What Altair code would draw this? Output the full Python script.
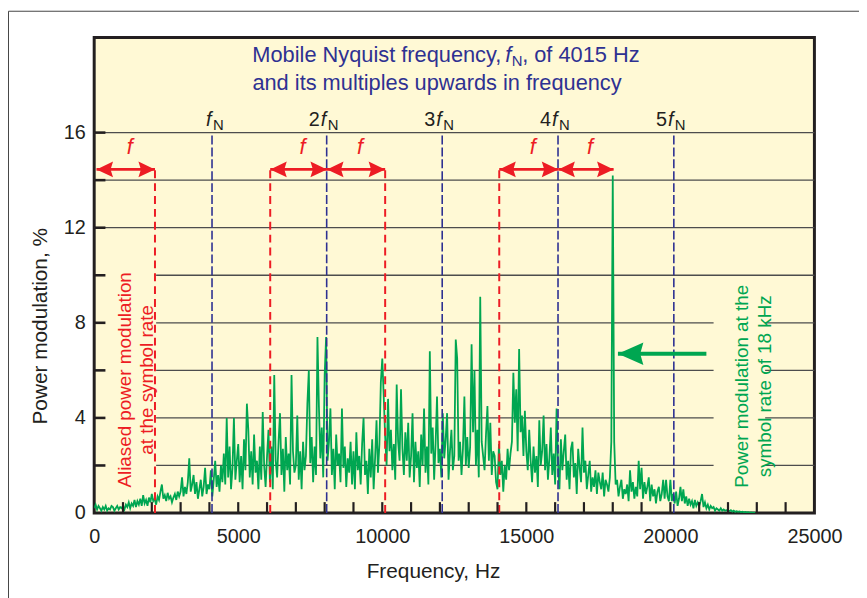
import altair as alt
import pandas as pd

FONT = "Liberation Sans"
GREEN = "#00A651"
RED = "#ED1C24"
BLUE = "#2E3192"
INK = "#231F20"
BG = "#FFF9D5"

# ---------------- data ----------------
step_hz = 50  # spectrum sample spacing
power_00k = [0.2,0.35,0.15,0.3,0.2,0.1,0.25,0.15,0.3,0.1,0.2,0.15,0.3,0.25,0.1,0.2,0.3,0.15,0.25,0.2]
power_01k = [0.3,0.15,0.35,0.25,0.45,0.2,0.4,0.3,0.55,0.25,0.5,0.35,0.6,0.3,0.75,0.4,0.55,0.3,0.65,0.45]
power_02k = [0.8,0.5,0.6,0.35,0.7,0.55,0.9,1.2,0.6,0.75,0.5,0.85,0.6,0.7,0.45,0.65,0.8,0.55,0.9,0.7]
power_03k = [0.9,1.5,0.7,1.1,0.8,1.3,2.3,0.9,1.2,1.6,0.8,1.3,0.6,1.0,1.4,0.7,1.1,1.9,0.8,1.2]
power_04k = [1.0,1.8,0.7,1.4,2.2,1.1,1.6,0.9,2.0,1.3,2.5,1.2,4.0,1.5,2.8,1.0,1.9,4.0,1.4,2.2]
power_05k = [2.9,1.3,2.4,1.0,3.1,1.8,4.6,3.5,1.5,2.6,1.2,3.3,1.7,2.2,1.0,2.8,1.4,4.25,2.0,1.1]
power_06k = [2.4,3.5,1.3,2.8,1.0,5.8,2.2,1.5,3.0,4.2,1.6,2.7,0.9,3.2,1.8,2.5,1.2,5.8,2.6,1.7]
power_07k = [2.0,4.1,1.4,2.6,1.0,3.0,1.8,2.4,4.6,6.0,2.1,3.2,1.3,2.8,1.6,7.4,4.5,2.3,3.6,1.5]
power_08k = [5.8,7.4,2.2,3.0,4.4,1.6,2.7,1.0,3.3,2.0,2.5,1.3,4.4,1.9,2.8,1.1,2.3,1.7,3.0,1.2]
power_09k = [2.6,1.0,3.4,1.8,2.4,1.2,2.9,4.0,1.6,2.2,0.8,2.7,1.5,3.1,1.0,2.3,3.9,1.7,2.9,5.5]
power_10k = [6.5,4.9,3.2,2.0,4.8,2.6,3.5,1.8,2.9,1.4,5.4,3.0,2.2,5.2,2.7,1.6,3.4,2.2,3.8,1.5]
power_11k = [2.4,4.2,1.3,3.0,1.9,2.6,1.1,3.3,2.0,4.4,1.7,2.8,1.2,6.8,2.5,3.6,1.4,2.9,4.9,2.1]
power_12k = [2.7,1.5,4.2,2.3,3.1,4.2,1.4,2.6,3.5,1.8,2.4,7.3,6.5,2.2,3.0,1.6,2.7,4.9,2.0,3.2]
power_13k = [1.9,2.8,7.1,3.4,6.0,2.0,3.5,1.5,9.1,3.0,2.4,1.8,3.3,4.5,2.2,3.8,1.6,2.6,2.4,1.3]
power_14k = [1.0,2.9,1.6,2.2,0.9,2.0,1.4,2.7,1.8,2.5,3.0,5.9,3.8,5.2,2.6,6.9,3.4,4.1,2.4,4.3]
power_15k = [2.6,1.8,3.5,2.2,1.3,2.8,1.7,2.4,1.1,3.9,2.0,2.6,4.1,1.8,2.9,1.4,2.3,3.6,1.6,2.5]
power_16k = [1.2,4.4,2.1,1.0,3.1,1.8,2.6,3.3,1.4,2.2,1.0,2.7,3.0,1.5,2.1,0.8,2.7,1.9,1.3,3.6]
power_17k = [1.7,2.2,1.0,1.6,2.2,0.9,1.5,1.1,1.8,0.8,1.7,1.3,1.0,1.7,0.7,1.4,1.2,0.9,1.5,3.0]
power_18k = [14.2,3.0,1.2,1.4,0.7,1.1,1.4,0.6,1.0,0.8,1.2,0.5,1.8,0.9,1.3,0.6,1.1,0.7,2.2,1.0]
power_19k = [1.9,0.6,1.3,0.8,1.1,1.5,0.5,1.2,0.7,1.0,0.4,0.9,1.1,0.5,0.8,1.4,0.6,1.4,0.7,0.5]
power_20k = [1.4,0.5,0.8,0.4,0.9,0.3,0.6,1.1,0.5,1.0,0.4,0.7,0.3,0.6,0.35,0.5,0.2,0.55,0.3,0.45]
power_21k = [0.3,0.5,0.8,0.25,0.45,0.2,0.35,0.15,0.3,0.2,0.25,0.1,0.2,0.15,0.1,0.2,0.1,0.15,0.1,0.12]
power_22k = [0.1,0.08,0.12,0.06,0.1,0.05,0.08,0.05,0.07,0.04,0.06,0.03,0.05,0.03,0.04,0.02,0.03,0.02,0.02,0.02]

# horizontal grid lines, broken where the two annotation boxes sit
grid_levels = [16, 14, 12, 10, 8, 8, 6, 6, 4, 4, 2, 2]
grid_starts = [0, 0, 0, 2150, 2150, 23290, 2150, 23290, 2150, 23290, 2150, 23290]
grid_ends = [25000, 25000, 25000, 25000, 21500, 25000, 21500, 25000, 21500, 25000, 21500, 25000]

x_tick_labels = [0, 5000, 10000, 15000, 20000, 25000]
y_tick_labels = [0, 4, 8, 12, 16]
x_minor_ticks = [1000, 2000, 3000, 4000, 5000, 6000, 7000, 8000, 9000, 10000, 11000, 12000,
                 13000, 14000, 15000, 16000, 17000, 18000, 19000, 20000, 21000, 22000, 23000, 24000]
y_minor_ticks = [2, 4, 6, 8, 10, 12, 14, 16]

nyquist_lines = [4090, 8070, 12080, 16100, 20120]
nyquist_mult = ["", "2", "3", "4", "5"]
nyquist_top = 15.9
alias_lines = [2110, 6110, 10100, 14060]
arrow_starts = [80, 6110, 8080, 14060, 16110]
arrow_ends = [2110, 8080, 10100, 16110, 18030]
arrow_level = 14.45

# ---------------- tables ----------------
blocks = [power_00k, power_01k, power_02k, power_03k, power_04k, power_05k, power_06k, power_07k,
          power_08k, power_09k, power_10k, power_11k, power_12k, power_13k, power_14k, power_15k,
          power_16k, power_17k, power_18k, power_19k, power_20k, power_21k, power_22k]
power = [v for b in blocks for v in b]
spec = pd.DataFrame({"f": [i * step_hz for i in range(len(power))], "p": power})

xs = alt.Scale(domain=[0, 25000], nice=False, zero=False)
ys = alt.Scale(domain=[0, 20], nice=False, zero=False)
x_axis = alt.Axis(values=x_tick_labels, format="d", ticks=False, domain=False, grid=False,
                  labelFontSize=20, labelPadding=14, labelFlush=False, labelOverlap=False,
                  title="Frequency, Hz", titleFontSize=21, titleX=342, titleY=65,
                  titleAlign="center", titleBaseline="alphabetic", titleAngle=0)
y_axis = alt.Axis(values=y_tick_labels, ticks=False, domain=False, grid=False,
                  labelFontSize=20, labelPadding=9,
                  title="Power modulation, %", titleFontSize=21, titleX=-54, titleY=291,
                  titleAngle=270, titleAlign="center", titleBaseline="middle")


def X(field):
    return alt.X(field, type="quantitative", scale=xs, axis=x_axis)


def Y(field):
    return alt.Y(field, type="quantitative", scale=ys, axis=y_axis)


one = pd.DataFrame({"k": [0]})

grid = alt.Chart(pd.DataFrame({"y": grid_levels, "x0": grid_starts, "x1": grid_ends})).mark_rule(
    color="#4D4D4D", strokeWidth=1.3).encode(y=Y("y"), x=X("x0"), x2="x1")

line = alt.Chart(spec).mark_line(color=GREEN, strokeWidth=1.8, clip=True).encode(
    x=X("f"), y=Y("p"))

red_dash = alt.Chart(pd.DataFrame({"x": alias_lines, "y0": 0, "y1": arrow_level})).mark_rule(
    color=RED, strokeWidth=2, strokeDash=[8, 5]).encode(x=X("x"), y=Y("y0"), y2="y1")

blue_dash = alt.Chart(pd.DataFrame({"x": nyquist_lines, "y0": 0, "y1": nyquist_top})).mark_rule(
    color=BLUE, strokeWidth=1.6, strokeDash=[9, 3]).encode(x=X("x"), y=Y("y0"), y2="y1")

arr = pd.DataFrame({"x1": arrow_starts, "x2": arrow_ends, "y": arrow_level})
arr["xm"] = (arr["x1"] + arr["x2"]) / 2
arr["ft"] = arrow_level + 0.65
shafts = alt.Chart(arr).mark_rule(color=RED, strokeWidth=2.7).encode(
    x=X("x1"), x2="x2", y=Y("y"))
head_l = alt.Chart(arr).mark_point(
    shape="M 0 0 L 2 -0.95 L 1.7 0 L 2 0.95 Z", size=279, filled=True,
    color=RED, opacity=1, strokeWidth=0).encode(x=X("x1"), y=Y("y"))
head_r = alt.Chart(arr).mark_point(
    shape="M 0 0 L -2 -0.95 L -1.7 0 L -2 0.95 Z", size=279, filled=True,
    color=RED, opacity=1, strokeWidth=0).encode(x=X("x2"), y=Y("y"))
f_lab = alt.Chart(arr).mark_text(
    text="f", font=FONT, fontSize=22, fontStyle="italic", color=RED,
    align="center", baseline="alphabetic", dx=4).encode(x=X("xm"), y=Y("ft"))

# green arrow pointing at the 18 kHz line
g_arrow = pd.DataFrame({"x1": [18180], "x2": [21250], "y": [6.7]})
g_shaft = alt.Chart(g_arrow).mark_rule(color=GREEN, strokeWidth=4).encode(
    x=X("x1"), x2="x2", y=Y("y"))
g_head = alt.Chart(g_arrow).mark_point(
    shape="M 0 0 L 2 -0.88 L 1.75 0 L 2 0.88 Z", size=660, filled=True,
    color=GREEN, opacity=1, strokeWidth=0).encode(x=X("x1"), y=Y("y"))

# multiples of the Nyquist frequency
nq = pd.DataFrame({"x": nyquist_lines, "m": nyquist_mult, "y": 16.28})
nq_num = alt.Chart(nq).mark_text(font=FONT, fontSize=20, color=INK, align="right",
                                 baseline="alphabetic", dx=-7).encode(
    x=X("x"), y=Y("y"), text="m:N")
nq_f = alt.Chart(nq).mark_text(text="f", font=FONT, fontSize=20, fontStyle="italic", color=INK,
                               align="left", baseline="alphabetic", dx=-6).encode(x=X("x"), y=Y("y"))
nq_n = alt.Chart(nq).mark_text(text="N", font=FONT, fontSize=15, color=INK,
                               align="left", baseline="alphabetic", dx=1, dy=4).encode(x=X("x"), y=Y("y"))

# title (blue, two lines, with italic f and subscript N)
t1 = pd.DataFrame({"x": [14270], "y": [18.96]})
t1a = alt.Chart(t1).mark_text(text="Mobile Nyquist  frequency,", font=FONT, fontSize=22, color=BLUE,
                              align="right", baseline="alphabetic", dx=-4).encode(x=X("x"), y=Y("y"))
t1b = alt.Chart(t1).mark_text(text="f", font=FONT, fontSize=22, fontStyle="italic", color=BLUE,
                              align="left", baseline="alphabetic", dx=0).encode(x=X("x"), y=Y("y"))
t1c = alt.Chart(t1).mark_text(text="N", font=FONT, fontSize=15, color=BLUE,
                              align="left", baseline="alphabetic", dx=6.5, dy=4).encode(x=X("x"), y=Y("y"))
t1d = alt.Chart(t1).mark_text(text=", of 4015 Hz", font=FONT, fontSize=22, color=BLUE,
                              align="left", baseline="alphabetic", dx=17).encode(x=X("x"), y=Y("y"))
t2 = alt.Chart(pd.DataFrame({"x": [11900], "y": [17.79]})).mark_text(
    text="and its multiples upwards in frequency", font=FONT, fontSize=22, color=BLUE,
    align="center", baseline="alphabetic").encode(x=X("x"), y=Y("y"))

alias_txt = alt.Chart(pd.DataFrame({"x": [1080], "y": [5.6],
                                    "t": ["Aliased power modulation\nat the symbol rate"]})).mark_text(
    font=FONT, fontSize=19, color=RED, angle=270, align="center", baseline="middle",
    lineBreak="\n", lineHeight=22).encode(x=X("x"), y=Y("y"), text="t:N")
green_txt = alt.Chart(pd.DataFrame({"x": [22500], "y": [5.33],
                                    "t": ["Power modulation at the\nsymbol rate of 18 kHz"]})).mark_text(
    font=FONT, fontSize=19, color=GREEN, angle=270, align="center", baseline="middle",
    lineBreak="\n", lineHeight=23).encode(x=X("x"), y=Y("y"), text="t:N")

# inward tick marks
x_ticks = alt.Chart(pd.DataFrame({"x": x_minor_ticks})).mark_rule(color=INK, strokeWidth=2.2).encode(
    x=X("x"), y=alt.value(480), y2=alt.value(469))
y_ticks = alt.Chart(pd.DataFrame({"y": y_minor_ticks, "x0": 0, "x1": 390})).mark_rule(
    color=INK, strokeWidth=2.6).encode(y=Y("y"), x=X("x0"), x2="x1")

# thin outer frame of the figure
frame_top = alt.Chart(one).mark_rule(color="#444444", strokeWidth=1).encode(
    x=alt.value(-86.5), x2=alt.value(800), y=alt.value(-26.5))
frame_left = alt.Chart(one).mark_rule(color="#444444", strokeWidth=1).encode(
    x=alt.value(-86.5), y=alt.value(-26.5), y2=alt.value(600))

chart = alt.layer(
    grid, line, red_dash, blue_dash, shafts, head_l, head_r, f_lab,
    g_shaft, g_head, nq_num, nq_f, nq_n, t1a, t1b, t1c, t1d, t2,
    alias_txt, green_txt, x_ticks, y_ticks, frame_top, frame_left
).properties(
    width=727, height=480,
    autosize=alt.AutoSizeParams(type="none"),
    padding={"left": 87, "top": 27, "right": 45, "bottom": 83},
    background="white",
).configure_view(
    fill=BG, stroke=INK, strokeWidth=3
).configure_axis(
    labelFont=FONT, titleFont=FONT, labelColor=INK, titleColor=INK, titleFontWeight="normal"
)

chart.save("out.html", embed_options={"renderer": "svg", "actions": False})
